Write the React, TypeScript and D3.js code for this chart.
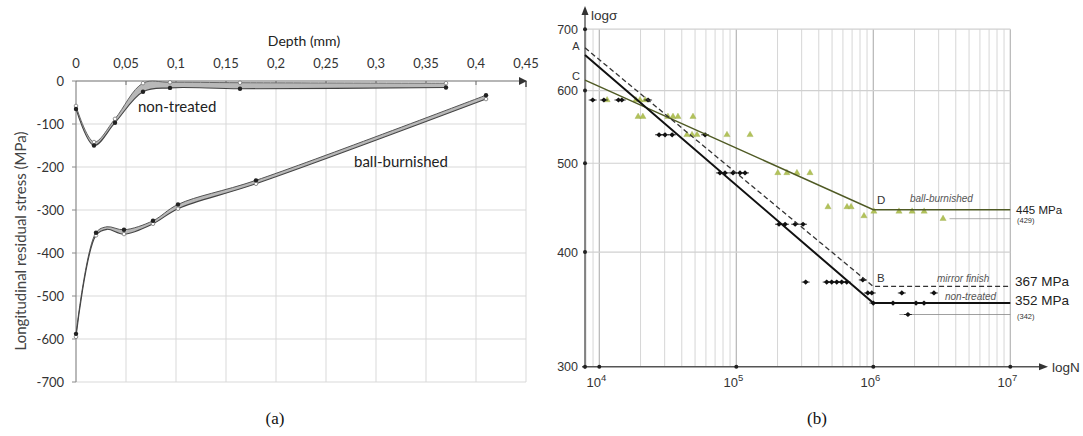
import React from 'react';
import * as d3 from 'd3';

// ---------- Panel (a) data ----------
const depthTicks = [0, 0.05, 0.1, 0.15, 0.2, 0.25, 0.3, 0.35, 0.4, 0.45];
const depthTickLabels = ['0', '0,05', '0,1', '0,15', '0,2', '0,25', '0,3', '0,35', '0,4', '0,45'];
const stressTicks = [0, -100, -200, -300, -400, -500, -600, -700];

const nonTreatedDepth = [0, 0.018, 0.039, 0.067, 0.094, 0.164, 0.37];
const nonTreatedUpper = [-58, -142, -88, -5, -3, -4, -5];
const nonTreatedLower = [-65, -150, -97, -25, -16, -18, -15];

const ballDepth = [0, 0.02, 0.031, 0.048, 0.077, 0.102, 0.18, 0.41];
const ballUpper = [-588, -353, -339, -346, -325, -287, -231, -33];
const ballLower = [-595, -359, -345, -356, -332, -297, -239, -42];

// ---------- Panel (b) data ----------
const sigmaTicks = [300, 400, 500, 600, 700];
const decadeTicks = [1e4, 1e5, 1e6, 1e7];
const decadeExp = ['4', '5', '6', '7'];

const nonTreatedPoints: [number, number][] = [
  [8950, 586], [10800, 586], [13800, 586], [14600, 586], [22700, 586],
  [27300, 537], [30200, 537], [34000, 537], [59200, 537],
  [76000, 488], [82700, 488], [94600, 488], [106400, 488], [115800, 488],
  [205000, 429], [227000, 429], [269000, 429], [307000, 429],
  [321000, 371], [457000, 371], [497000, 371], [541000, 371], [588000, 371], [640000, 371], [838000, 373],
  [912000, 361], [975000, 361], [1615000, 361], [2770000, 361],
  [1000000, 352], [1393000, 352], [2050000, 352], [2345000, 352],
  [1790000, 342],
];
const ballPoints: [number, number][] = [
  [11400, 586], [18500, 586], [19800, 586], [21600, 586],
  [19200, 562], [20800, 562], [31700, 562], [34500, 562], [37500, 562], [48300, 562],
  [43600, 537], [47500, 537], [51700, 537], [85500, 537], [126000, 537],
  [201000, 488], [234000, 488], [277000, 488], [345000, 488],
  [467000, 448], [643000, 448], [688000, 448],
  [855000, 438],
  [1010000, 443], [1540000, 443], [1920000, 443], [2350000, 443],
  [3230000, 435],
];
const nonTreatedLine: [number, number][] = [[7865, 656], [1e6, 352], [1e7, 352]];
const mirrorLine: [number, number][] = [[7865, 668], [1e6, 367], [1e7, 367]];
const ballLine: [number, number][] = [[7865, 616], [1e6, 445], [1e7, 445]];
const runoutNonTreated: [number, number][] = [[1.55e6, 342], [1e7, 342]];
const runoutBall: [number, number][] = [[3.6e6, 435], [1e7, 435]];

export default function App() {
  // ---- panel (a) scales
  const xL = d3.scaleLinear().domain([0, 0.45]).range([76, 526]);
  const yL = d3.scaleLinear().domain([0, -700]).range([81, 382]);
  const curve = d3.curveCatmullRom.alpha(0.5);

  const band = (xs: number[], up: number[], lo: number[]) =>
    d3.area<number>().x((_, i) => xL(xs[i])).y0((_, i) => yL(lo[i])).y1((_, i) => yL(up[i])).curve(curve)(xs) || '';
  const lineL = (xs: number[], ys: number[]) =>
    d3.line<number>().x((_, i) => xL(xs[i])).y((_, i) => yL(ys[i])).curve(curve)(xs) || '';

  // ---- panel (b) scales
  const xR = d3.scaleLog().domain([1e4, 1e7]).range([599.3, 1010.3]);
  const yR = d3.scaleLog().domain([300, 700]).range([366.7, 29.2]);
  const lineR = d3.line<[number, number]>().x(d => xR(d[0])).y(d => yR(d[1]));

  const minorN: number[] = [];
  for (let k = 3; k <= 6; k++) for (let m = 2; m <= 9; m++) {
    const n = m * Math.pow(10, k);
    if (n >= 7865 && n < 1e7) minorN.push(n);
  }
  const diamond = 'M0,-2.6L2.8,0L0,2.6L-2.8,0Z';
  const tri = d3.symbol().type(d3.symbolTriangle).size(17)() || '';

  const fL = 'Lato, "Open Sans", sans-serif';
  const fR = '"Liberation Sans", Arial, sans-serif';
  const x0 = xR(7865);

  return (
    <svg width={1083} height={436} style={{ position: 'absolute', left: 0, top: 0, background: '#fff' }}>
      {/* ================= Panel (a) ================= */}
      <g>
        {depthTicks.slice(1).map(d => (
          <line key={'vg' + d} x1={xL(d)} x2={xL(d)} y1={yL(0)} y2={yL(-700)} stroke="#d9d9d9" strokeWidth={1} />
        ))}
        {stressTicks.slice(1).map(v => (
          <line key={'hg' + v} x1={xL(0)} x2={xL(0.45)} y1={yL(v)} y2={yL(v)} stroke="#d9d9d9" strokeWidth={1} />
        ))}
        <line x1={xL(0)} x2={xL(0)} y1={yL(0)} y2={yL(-700)} stroke="#8a8a8a" strokeWidth={1.2} />
        {stressTicks.map(v => (
          <line key={'yt' + v} x1={xL(0) - 4} x2={xL(0)} y1={yL(v)} y2={yL(v)} stroke="#8a8a8a" />
        ))}
        <line x1={xL(0)} x2={xL(0.45)} y1={yL(0)} y2={yL(0)} stroke="#6e6e6e" strokeWidth={1.2} />
        {depthTicks.slice(1, -1).map(d => (
          <line key={'xt' + d} x1={xL(d)} x2={xL(d)} y1={yL(0)} y2={yL(0) + 4} stroke="#6e6e6e" />
        ))}
        <path d={`M${xL(0.45) + 1},${yL(0)} l-8,-4 l0,8 z`} fill="#333" />
        <line x1={xL(0.45)} x2={xL(0.45)} y1={yL(0)} y2={yL(0) + 6} stroke="#333" strokeWidth={1.3} />

        {depthTicks.map((d, i) => (
          <text key={'xl' + d} x={xL(d)} y={68} textAnchor="middle" fontFamily={fL} fontSize={13} fill="#333">{depthTickLabels[i]}</text>
        ))}
        {stressTicks.map(v => (
          <text key={'yl' + v} x={64} y={yL(v) + 4.5} textAnchor="end" fontFamily={fL} fontSize={13} fill="#333">{v}</text>
        ))}
        <text x={304} y={46} textAnchor="middle" fontFamily={fL} fontSize={14} fill="#222">Depth (mm)</text>
        <text transform={`translate(26,241) rotate(-90)`} textAnchor="middle" fontFamily={fL} fontSize={15} fill="#444">
          Longitudinal residual stress (MPa)
        </text>

        {/* curves */}
        <path d={band(nonTreatedDepth, nonTreatedUpper, nonTreatedLower)} fill="#b8b8b8" stroke="none" />
        <path d={lineL(nonTreatedDepth, nonTreatedUpper)} fill="none" stroke="#666" strokeWidth={1} />
        <path d={lineL(nonTreatedDepth, nonTreatedLower)} fill="none" stroke="#444" strokeWidth={1.1} />
        <path d={band(ballDepth, ballUpper, ballLower)} fill="#b8b8b8" stroke="none" />
        <path d={lineL(ballDepth, ballUpper)} fill="none" stroke="#555" strokeWidth={1} />
        <path d={lineL(ballDepth, ballLower)} fill="none" stroke="#444" strokeWidth={1.1} />
        {nonTreatedDepth.map((d, i) => (
          <g key={'nm' + i}>
            <circle cx={xL(d)} cy={yL(nonTreatedUpper[i])} r={1.8} fill="#fff" stroke="#777" strokeWidth={0.8} />
            <circle cx={xL(d)} cy={yL(nonTreatedLower[i])} r={2.2} fill="#222" />
          </g>
        ))}
        {ballDepth.map((d, i) => (
          i === 2 ? null :
          <g key={'bm' + i}>
            <circle cx={xL(d)} cy={yL(ballLower[i])} r={1.8} fill="#fff" stroke="#777" strokeWidth={0.8} />
            <circle cx={xL(d)} cy={yL(ballUpper[i])} r={2.2} fill="#222" />
          </g>
        ))}
        <text x={138} y={112} fontFamily={fL} fontSize={15} fill="#222">non-treated</text>
        <text x={354} y={167} fontFamily={fL} fontSize={15} fill="#222">ball-burnished</text>
        <text x={275} y={424} textAnchor="middle" fontFamily='"Liberation Serif", "DejaVu Serif", serif' fontSize={17} fill="#111">(a)</text>
      </g>

      {/* ================= Panel (b) ================= */}
      <g>
        {minorN.map(n => (
          <line key={'mg' + n} x1={xR(n)} x2={xR(n)} y1={yR(700)} y2={yR(300)} stroke="#d6d6d6" strokeWidth={1} />
        ))}
        {decadeTicks.map(n => (
          <line key={'dg' + n} x1={xR(n)} x2={xR(n)} y1={yR(700)} y2={yR(300)} stroke="#b5b5b5" strokeWidth={1.2} />
        ))}
        {sigmaTicks.slice(1).map(v => (
          <line key={'sg' + v} x1={x0} x2={xR(1e7)} y1={yR(v)} y2={yR(v)} stroke="#d0d0d0" strokeWidth={1.2} />
        ))}
        {/* axes */}
        <line x1={x0 - 3} x2={1042} y1={yR(300)} y2={yR(300)} stroke="#555" strokeWidth={1.4} />
        <path d={`M1048,${yR(300)} l-9,-3.5 l0,7 z`} fill="#333" />
        <line x1={x0} x2={x0} y1={yR(300) + 2} y2={12} stroke="#555" strokeWidth={1.4} />
        <path d={`M${x0},6 l-3.5,9 l7,0 z`} fill="#333" />
        {sigmaTicks.map(v => (
          <circle key={'sd' + v} cx={x0} cy={yR(v)} r={2} fill="#222" />
        ))}
        {decadeTicks.map(n => (
          <circle key={'nd' + n} cx={xR(n)} cy={yR(300)} r={2} fill="#222" />
        ))}
        {sigmaTicks.map(v => (
          <text key={'sl' + v} x={578} y={yR(v) + 4.5} textAnchor="end" fontFamily={fR} fontSize={12.5} fill="#333">{v}</text>
        ))}
        {decadeTicks.map((n, i) => (
          <text key={'nl' + n} x={xR(n) - 3} y={387} textAnchor="middle" fontFamily={fR} fontSize={13} fill="#333">
            10<tspan fontSize={9.5} dy={-6}>{decadeExp[i]}</tspan>
          </text>
        ))}
        <text x={591} y={20} fontFamily={fR} fontSize={13.5} fill="#333">logσ</text>
        <text x={1052} y={372} fontFamily={fR} fontSize={13.5} fill="#333">logN</text>

        {/* runout lines */}
        <path d={lineR(runoutBall) || ''} stroke="#999" strokeWidth={0.8} fill="none" />
        <path d={lineR(runoutNonTreated) || ''} stroke="#888" strokeWidth={0.8} fill="none" />

        {/* points */}
        {ballPoints.map((p, i) => (
          <path key={'bp' + i} d={tri} transform={`translate(${xR(p[0])},${yR(p[1])})`} fill="#b2c25a" stroke="#95a640" strokeWidth={0.3} />
        ))}
        {nonTreatedPoints.map((p, i) => (
          <g key={'np' + i} transform={`translate(${xR(p[0])},${yR(p[1])})`}>
            <line x1={-4} x2={4} y1={0} y2={0} stroke="#111" strokeWidth={0.8} />
            <path d={diamond} fill="#111" />
          </g>
        ))}

        {/* S-N lines */}
        <path d={lineR(ballLine) || ''} stroke="#4f5a24" strokeWidth={1.5} fill="none" />
        <path d={lineR(mirrorLine) || ''} stroke="#333" strokeWidth={1.3} strokeDasharray="5,3" fill="none" />
        <path d={lineR(nonTreatedLine) || ''} stroke="#111" strokeWidth={2} fill="none" />

        {/* annotations */}
        <text x={576} y={50} textAnchor="middle" fontFamily={fR} fontSize={11} fill="#333">A</text>
        <text x={576} y={80} textAnchor="middle" fontFamily={fR} fontSize={11} fill="#333">C</text>
        <text x={877} y={yR(445) - 6} fontFamily={fR} fontSize={11.5} fill="#333">D</text>
        <text x={877} y={yR(367) - 4} fontFamily={fR} fontSize={11.5} fill="#333">B</text>
        <text x={910} y={yR(445) - 8} fontFamily={fR} fontSize={10} fontStyle="italic" fill="#555">ball-burnished</text>
        <text x={937} y={yR(367) - 4} fontFamily={fR} fontSize={10} fontStyle="italic" fill="#555">mirror finish</text>
        <text x={945} y={yR(352) - 3} fontFamily={fR} fontSize={10} fontStyle="italic" fill="#555">non-treated</text>
        <text x={1016} y={yR(445) + 4} fontFamily={fR} fontSize={11.5} fill="#222">445 MPa</text>
        <text x={1017} y={yR(435) + 4} fontFamily={fR} fontSize={7.5} fill="#333">(429)</text>
        <text x={1015} y={yR(367) + 0} fontFamily={fR} fontSize={13.5} fill="#222">367 MPa</text>
        <text x={1015} y={yR(352) + 2} fontFamily={fR} fontSize={13.5} fill="#222">352 MPa</text>
        <text x={1017} y={yR(342) + 4} fontFamily={fR} fontSize={7.5} fill="#333">(342)</text>
        <text x={817} y={424} textAnchor="middle" fontFamily='"Liberation Serif", "DejaVu Serif", serif' fontSize={17} fill="#111">(b)</text>
      </g>
    </svg>
  );
}
